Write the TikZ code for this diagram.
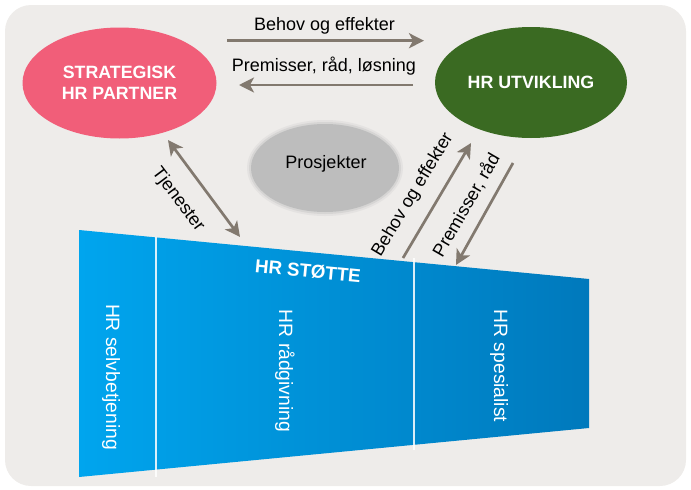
\documentclass[tikz,border=0pt]{standalone}
\usepackage{fontspec}
\setmainfont{Liberation Sans}
\usetikzlibrary{arrows.meta,shapes.geometric}
\definecolor{bgc}{HTML}{EEECEA}
\definecolor{pinkc}{HTML}{F15E79}
\definecolor{greenc}{HTML}{3A6A22}
\definecolor{grayc}{HTML}{BDBDBD}
\definecolor{arrc}{HTML}{82796F}
\definecolor{blueL}{HTML}{00A5EE}
\definecolor{blueM}{HTML}{009AE3}
\definecolor{blueR}{HTML}{0079BC}
\tikzset{
  arr/.style={draw=arrc, line width=2.7pt, -{Stealth[length=15pt,width=15pt,inset=4pt]}},
  darr/.style={draw=arrc, line width=2.7pt, {Stealth[length=15pt,width=15pt,inset=4pt]}-{Stealth[length=15pt,width=15pt,inset=4pt]}},
  lab/.style={inner sep=0pt, text=black},
  bubble/.style={ellipse, inner sep=0pt, text=white, align=center, font=\bfseries\fontsize{17.8}{21}\selectfont},
  vlab/.style={inner sep=0pt, text=white, rotate=-90, font=\fontsize{19.3}{22}\selectfont},
  divider/.style={draw=white, draw opacity=0.85, line width=2.6pt}
}
\begin{document}
\begin{tikzpicture}[x=1pt,y=-1pt,font=\fontsize{18}{21}\selectfont]
\useasboundingbox (0,0) rectangle (691,490);
\fill[bgc, rounded corners=26pt] (5,5) rectangle (686,486);

% ellipses
\node[bubble, fill=pinkc, minimum width=194pt, minimum height=111pt] (sp) at (119.5,83) {STRATEGISK\\HR PARTNER};
\node[bubble, fill=greenc, minimum width=192pt, minimum height=111pt] (hu) at (531,82.5) {HR UTVIKLING};
\foreach \r/\o in {4/0.2,2/0.35}
  \fill[grayc, opacity=\o] (325,168) ellipse [x radius=74+\r, y radius=44+\r];
\node[ellipse, fill=grayc, minimum width=148pt, minimum height=88pt, inner sep=0pt] (pj) at (325,168) {};
\node[lab] (pjt) at (326,164) {Prosjekter};

% HR stotte trapezoid
\shade[left color=blueL, middle color=blueM, right color=blueR] (79,230) -- (589,279) -- (589,428) -- (79,477) -- cycle;
\coordinate (d1a) at (156,237);
\coordinate (d1b) at (156,477);
\coordinate (d2a) at (414,258);
\coordinate (d2b) at (414,450);
\draw[divider] (d1a) -- (d1b);
\draw[divider] (d2a) -- (d2b);
\node[inner sep=0pt, text=white, rotate=-5.5, font=\bfseries\fontsize{18.7}{21}\selectfont] (st) at (308,271) {HR STØTTE};
\node[vlab] (sb) at (111,377) {HR selvbetjening};
\node[vlab] (rg) at (285,371) {HR rådgivning};
\node[vlab] (ss) at (499,366) {HR spesialist};

% top arrows
\coordinate (a1s) at (227,40.7);
\coordinate (a1e) at (424,40.7);
\draw[arr] (a1s) -- (a1e);
\node[lab] (l1) at (324.5,25.5) {Behov og effekter};
\coordinate (a2s) at (413,85);
\coordinate (a2e) at (239,85);
\draw[arr] (a2s) -- (a2e);
\node[lab] (l2) at (324,66.5) {Premisser, råd, løsning};

% Tjenester
\coordinate (t1) at (168,140);
\coordinate (t2) at (240,237);
\draw[darr] (t1) -- (t2);
\node[lab, rotate=-53] (l3) at (178,200) {Tjenester};

% right diagonal arrows
\coordinate (b1s) at (403,258);
\coordinate (b1e) at (471,143);
\draw[arr] (b1s) -- (b1e);
\node[lab, rotate=59] (l4) at (413,195) {Behov og effekter};
\coordinate (b2s) at (513,163);
\coordinate (b2e) at (456,265);
\draw[arr] (b2s) -- (b2e);
\node[lab, rotate=60] (l5) at (466,205) {Premisser, råd};
\end{tikzpicture}
\end{document}
